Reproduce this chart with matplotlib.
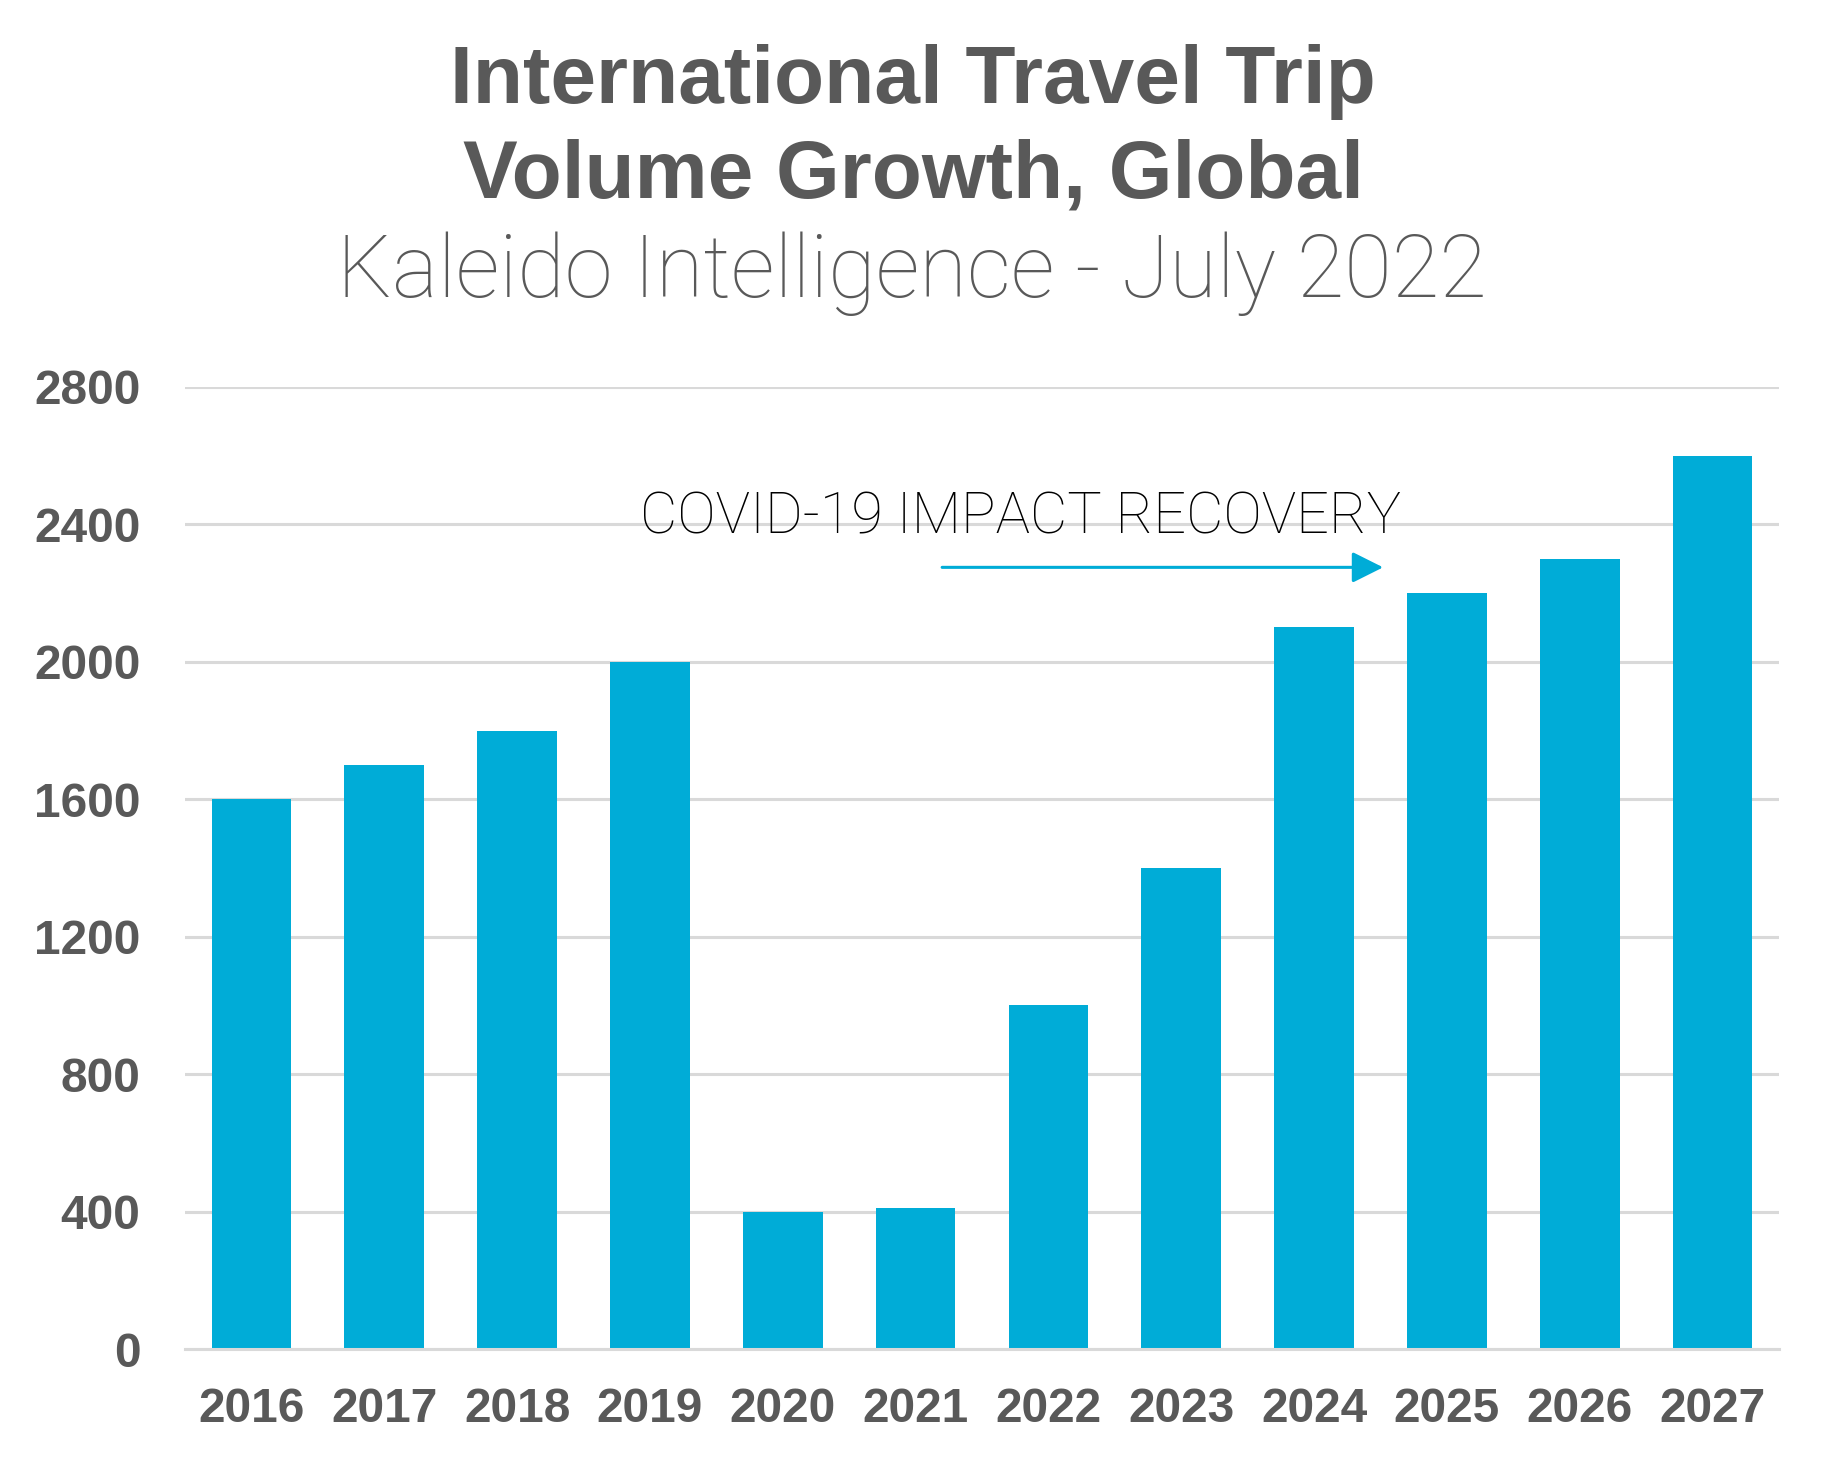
import matplotlib
matplotlib.use('Agg')
import matplotlib.pyplot as plt

years = ['2016', '2017', '2018', '2019', '2020', '2021',
         '2022', '2023', '2024', '2025', '2026', '2027']
trips = [1600, 1700, 1800, 2000, 400, 410, 1000, 1400, 2100, 2200, 2300, 2600]
y_ticks = [0, 400, 800, 1200, 1600, 2000, 2400, 2800]

bar_color = '#00ACD7'
text_gray = '#595959'
grid_gray = '#D9D9D9'

fig = plt.figure(figsize=(18.3, 14.63), dpi=100)
ax = fig.add_axes([0.1011, 0.0779, 0.8710, 0.6576])

x = list(range(len(years)))
ax.bar(x, trips, width=0.6, color=bar_color, zorder=3)

ax.set_xlim(-0.5, len(years) - 0.5)
ax.set_ylim(0, 2800)
ax.set_yticks(y_ticks)
ax.set_xticks(x)
ax.set_xticklabels(years)
for lab in ax.get_xticklabels() + ax.get_yticklabels():
    lab.set_family('Liberation Sans')
    lab.set_fontweight('bold')
    lab.set_fontsize(34.5)
    lab.set_color(text_gray)
ax.tick_params(axis='y', length=0, pad=32)
ax.tick_params(axis='x', length=0, pad=27)

ax.grid(axis='y', color=grid_gray, linewidth=2.2, zorder=0)
for s in ['top', 'right', 'left']:
    ax.spines[s].set_visible(False)
ax.spines['bottom'].set_color(grid_gray)
ax.spines['bottom'].set_linewidth(2.2)
ax.spines['bottom'].set_zorder(4)

# recovery annotation
ax.text(2.925, 2374, 'COVID-19 IMPACT RECOVERY', fontsize=41.5, color='black',
        family='Roboto', fontweight='light', ha='left', va='baseline')
ax.annotate('', xy=(8.52, 2275), xytext=(5.2, 2275),
            arrowprops=dict(arrowstyle='-|>,head_length=1.9,head_width=0.95',
                            color=bar_color, lw=2.2, shrinkA=0, shrinkB=0))

# titles
fig.text(0.499, 1 - 103 / 1463, 'International Travel Trip', ha='center', va='baseline',
         family='Liberation Sans', fontweight='bold', fontsize=59, color=text_gray)
fig.text(0.499, 1 - 198 / 1463, 'Volume Growth, Global', ha='center', va='baseline',
         family='Liberation Sans', fontweight='bold', fontsize=59, color=text_gray)
fig.text(0.4985, 1 - 297 / 1463, 'Kaleido Intelligence - July 2022', ha='center', va='baseline',
         family='Roboto', fontweight='light', fontsize=62.5, color=text_gray)

fig.savefig('out.png', dpi=100)
plt.close(fig)
